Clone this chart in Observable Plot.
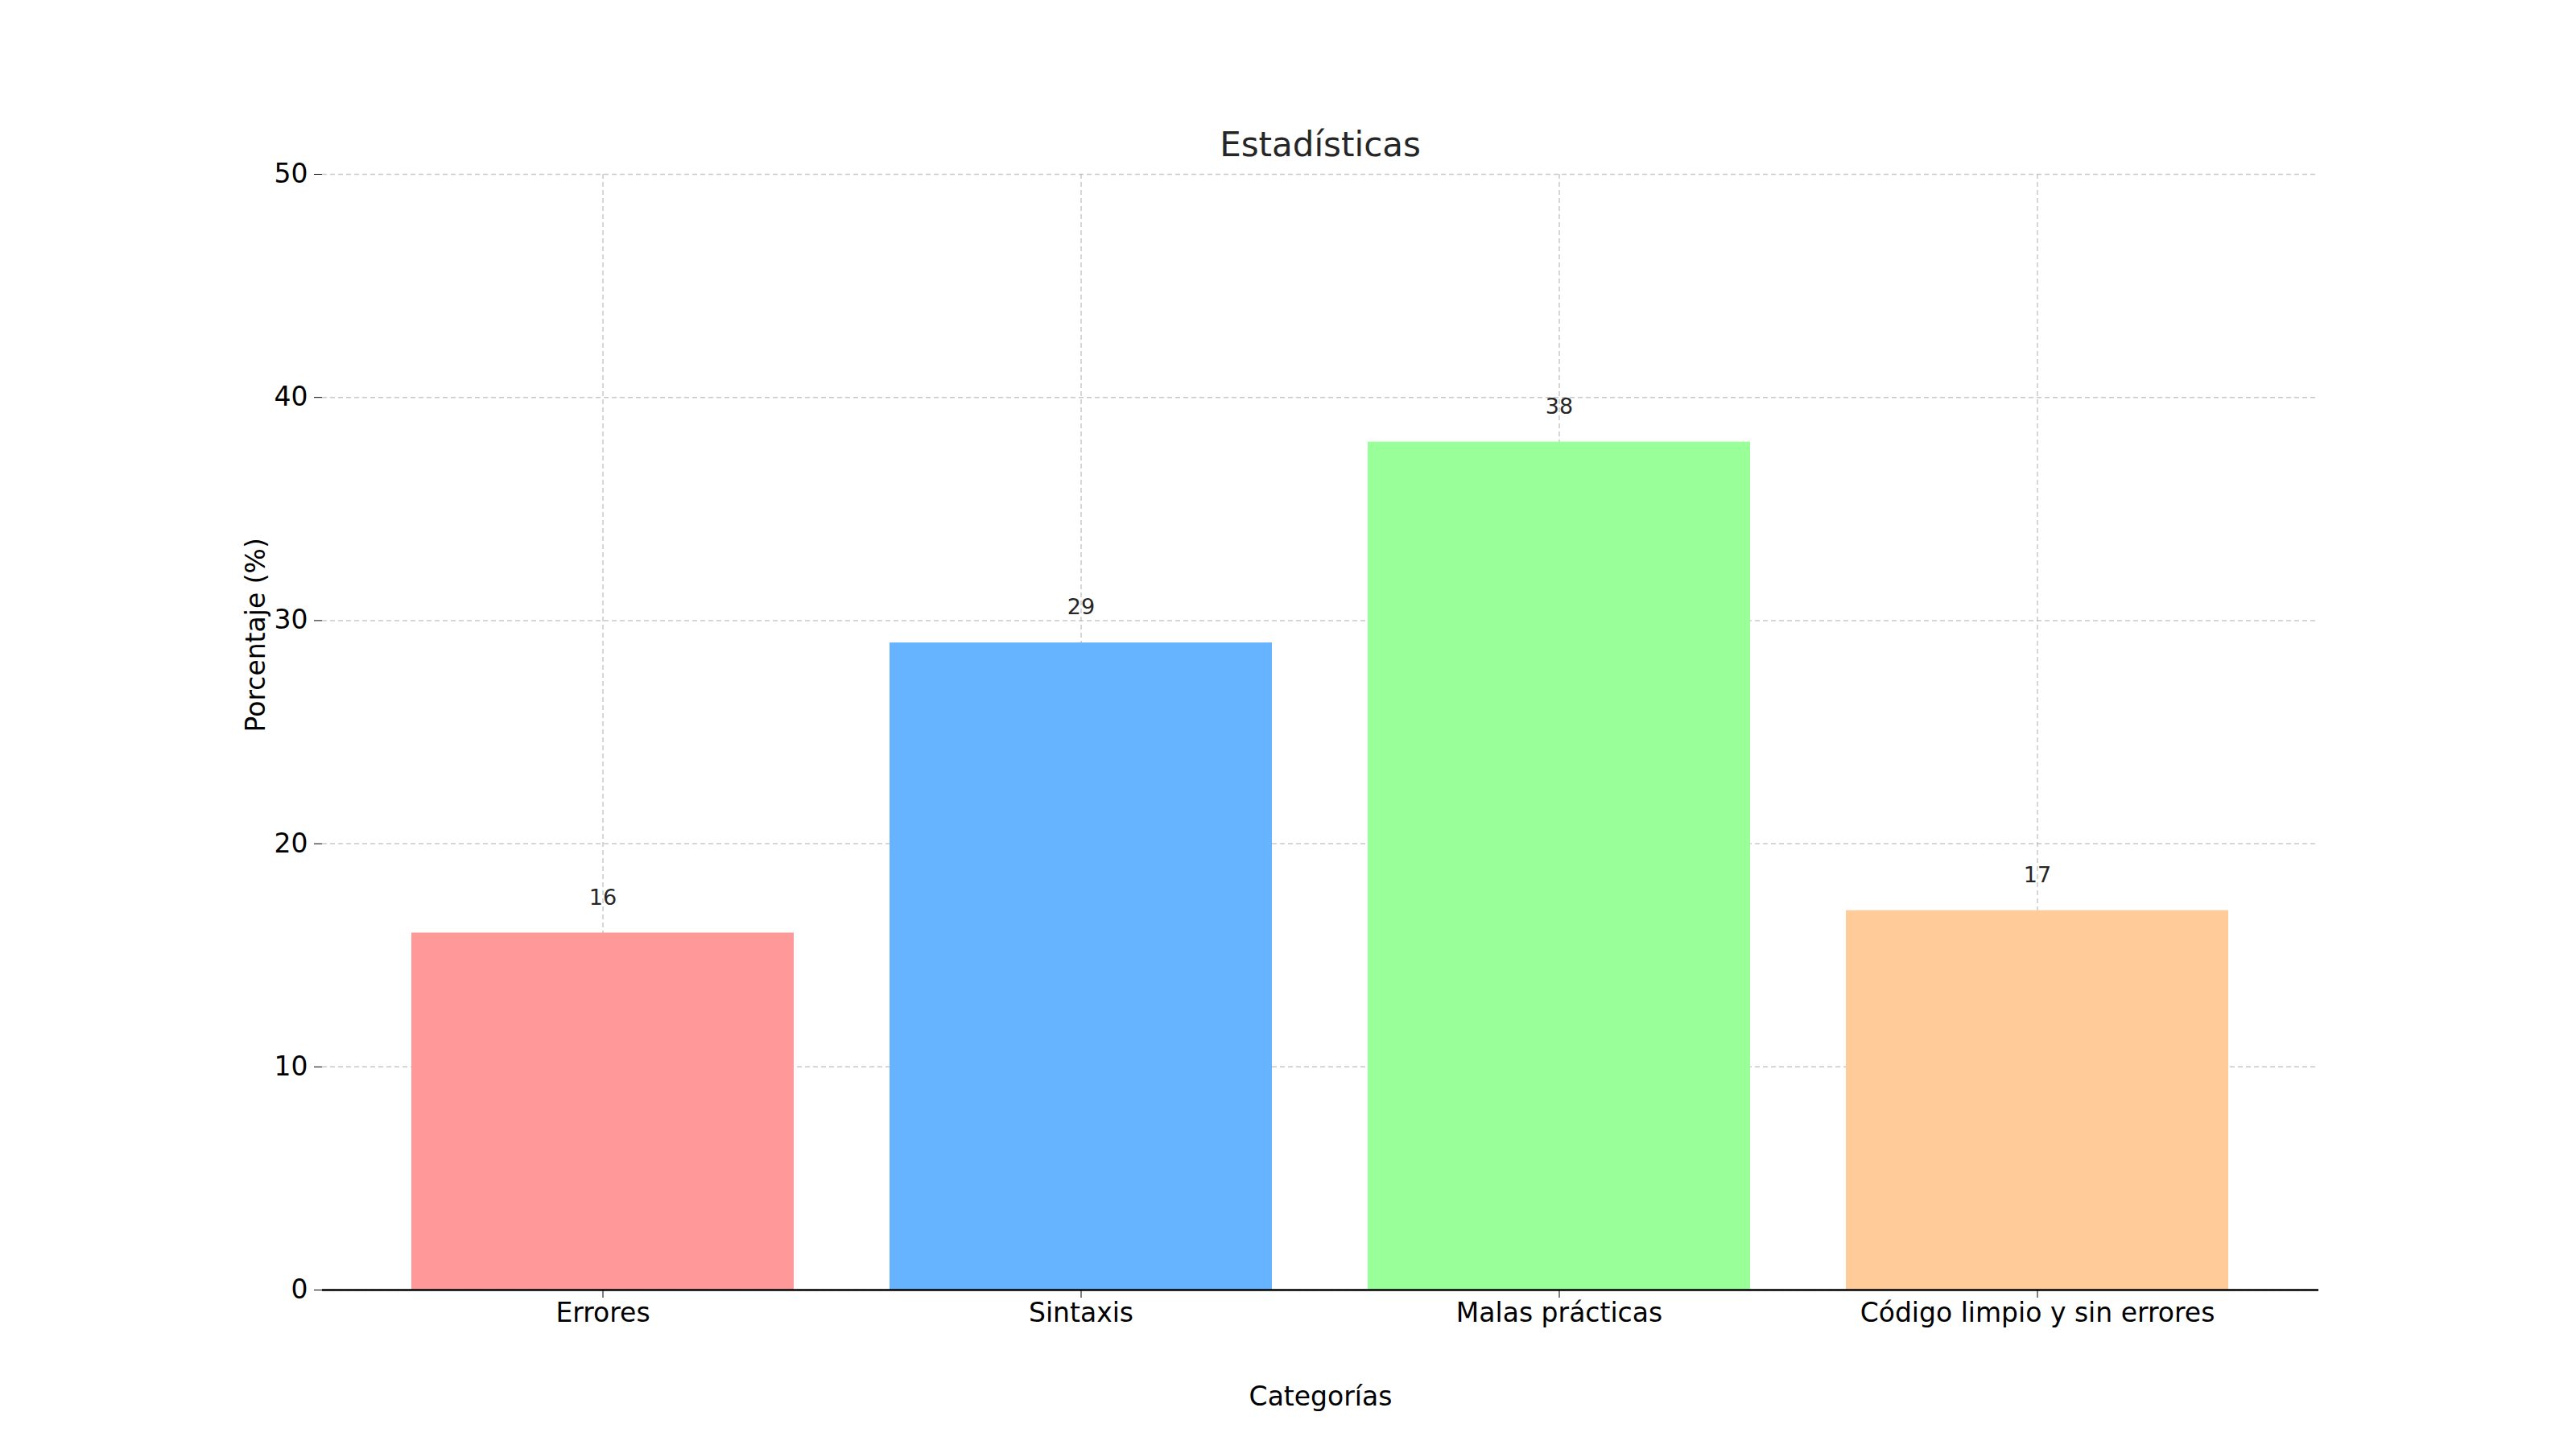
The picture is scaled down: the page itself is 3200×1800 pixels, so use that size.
<!DOCTYPE html>
<html>
<head>
<meta charset="utf-8">
<script src="https://cdn.jsdelivr.net/npm/d3@7"></script>
<script src="https://cdn.jsdelivr.net/npm/@observablehq/plot@0.6"></script>
<style>
  body { margin: 0; background: white; font-family: "DejaVu Sans", sans-serif; }
  #chart { position: relative; width: 3200px; height: 1800px; }
  #title { position: absolute; top: 155px; left: 400px; width: 2480px; text-align: center; font-size: 42px; color: #262626; }
</style>
</head>
<body>
<div id="chart"><div id="title">Estadísticas</div></div>
<script>
const categorias = ["Errores", "Sintaxis", "Malas prácticas", "Código limpio y sin errores"]
const porcentajes = [16, 29, 38, 17]
const colores = ["#ff9999", "#66b3ff", "#99ff99", "#ffcc99"]
const yTicks = [0, 10, 20, 30, 40, 50]

const data = categorias.map((c, i) => ({categoria: c, valor: porcentajes[i], color: colores[i]}))

const chart = Plot.plot({
  width: 3200,
  height: 1800,
  marginLeft: 400,
  marginRight: 320,
  marginTop: 216,
  marginBottom: 198,
  style: {fontFamily: "DejaVu Sans", fontSize: "33px", color: "#000", background: "white"},
  x: {domain: categorias, paddingInner: 0.2, paddingOuter: 0.1875, label: null},
  y: {domain: [0, 50], label: null},
  marks: [
    Plot.gridX(categorias, {x: d => d, stroke: "#b0b0b0", strokeOpacity: 0.7, strokeDasharray: "6,4", strokeWidth: 1.5}),
    Plot.gridY(yTicks, {stroke: "#b0b0b0", strokeOpacity: 0.7, strokeDasharray: "6,4", strokeWidth: 1.5}),
    Plot.barY(data, {x: "categoria", y: "valor", fill: "color"}),
    Plot.text(data, {x: "categoria", y: "valor", text: d => String(d.valor), dy: -44, fontSize: 27, fill: "#262626"}),
    Plot.axisX({tickSize: 10, tickPadding: 6, fontSize: 33, label: null}),
    Plot.axisY({ticks: yTicks, tickSize: 10, tickPadding: 8, fontSize: 33, label: null}),
    Plot.ruleY([0], {stroke: "#000", strokeWidth: 2.5}),
    Plot.ruleX([0], {x: () => null, frameAnchor: "left", stroke: "#000", strokeWidth: 2.5}),
    Plot.text(["Categorías"], {frameAnchor: "bottom", dy: 143, fontSize: 33, fill: "#000"}),
    Plot.text(["Porcentaje (%)"], {frameAnchor: "left", dx: -82, rotate: -90, fontSize: 33, fill: "#000"})
  ]
})

document.querySelector("#chart").append(chart)
</script>
</body>
</html>
